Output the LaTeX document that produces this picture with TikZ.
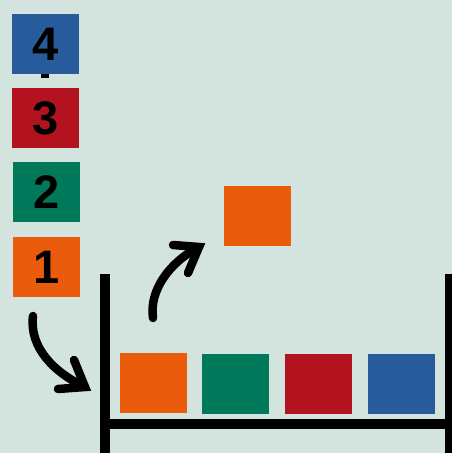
\documentclass[tikz,border=0pt]{standalone}
\usepackage{fontspec}
\setmainfont{Liberation Sans}
\definecolor{bg}{RGB}{211,227,221}
\definecolor{cblue}{RGB}{39,91,155}
\definecolor{cred}{RGB}{179,19,31}
\definecolor{cgreen}{RGB}{0,120,90}
\definecolor{corange}{RGB}{234,91,12}
\begin{document}
\begin{tikzpicture}[x=1pt,y=-1pt,
  box/.style={minimum width=67pt,minimum height=60pt,inner sep=0pt,outer sep=0pt,
    font=\fontsize{47}{47}\selectfont\bfseries},
  wall/.style={line width=10pt},
  hand/.style={line width=8.5pt,line cap=round,line join=miter,miter limit=10}]
\fill[bg] (0,0) rectangle (452,453);
\useasboundingbox (0,0) rectangle (452,453);
% left stack
\fill (41,72) rectangle (48.5,78);
\node[box,fill=cblue] (s4) at (45.5,44) {4};
\node[box,fill=cred] (s3) at (45.5,118) {3};
\node[box,fill=cgreen] (s2) at (46.5,192) {2};
\node[box,fill=corange] (s1) at (46.5,267) {1};
% container
\draw[wall] (105,274) -- (105,453);
\draw[wall] (450,274) -- (450,453);
\draw[wall] (105,424) -- (452,424);
\node[box,fill=corange] (c1) at (153.5,383) {};
\node[box,fill=cgreen] (c2) at (235.5,384) {};
\node[box,fill=cred] (c3) at (318.5,384) {};
\node[box,fill=cblue] (c4) at (401.5,384) {};
% floating box
\node[box,fill=corange] (f1) at (257.5,216) {};
% arrows
\coordinate (a1s) at (33,316);
\coordinate (a1t) at (85,387);
\coordinate (a2s) at (153,318);
\coordinate (a2t) at (199,247);
\draw[hand] (a1s) .. controls (29,348) and (55,373) .. (a1t);
\draw[hand] (74,360) -- (a1t) -- (58,389);
\draw[hand] (a2s) .. controls (149,290) and (170,262) .. (a2t);
\draw[hand] (173,245) -- (a2t) -- (188,273);
\end{tikzpicture}
\end{document}
